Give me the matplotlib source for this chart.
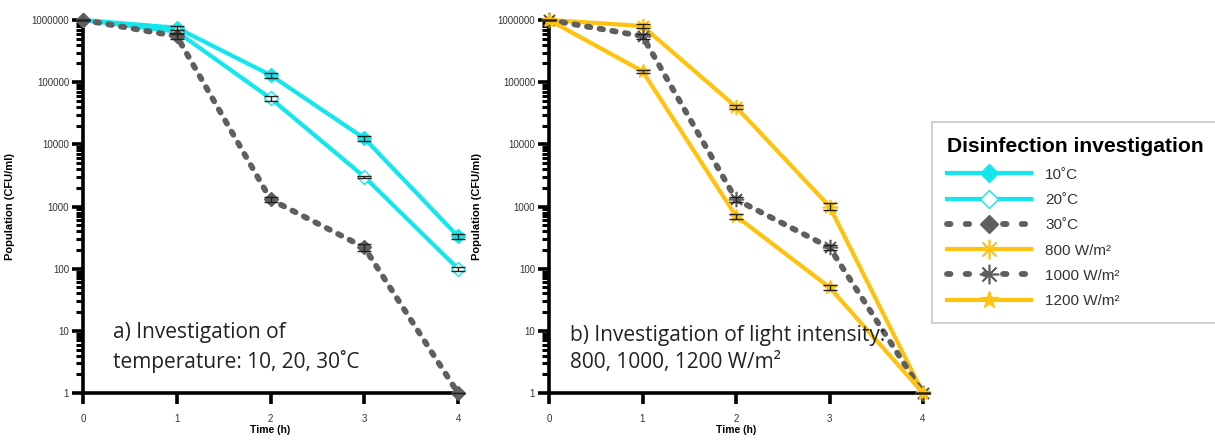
import matplotlib.pyplot as plt
import matplotlib.ticker as mticker
from matplotlib.lines import Line2D
import numpy as np

plt.rcParams["font.family"] = ["Liberation Sans", "DejaVu Sans"]

# --- data ---
time_h = [0, 1, 2, 3, 4]
y_ticks = [1, 10, 100, 1000, 10000, 100000, 1000000]

temp_10 = [1e6, 7.5e5, 1.3e5, 1.25e4, 330]
temp_10_err = [0, 6e4, 1.2e4, 1.2e3, 30]
temp_20 = [1e6, 6.5e5, 5.5e4, 3000, 100]
temp_20_err = [0, 5e4, 6e3, 150, 8]
temp_30 = [1e6, 5.5e5, 1300, 220, 1]
temp_30_err = [0, 6e4, 100, 25, 0]

light_800 = [1e6, 8e5, 4e4, 1000, 1]
light_800_err = [0, 7e4, 3e3, 120, 0]
light_1000 = [1e6, 5.5e5, 1300, 220, 1]
light_1000_err = [0, 5e4, 100, 20, 0]
light_1200 = [1e6, 1.5e5, 700, 50, 1]
light_1200_err = [0, 8e3, 60, 5, 0]

CYAN = "#14E6EE"
YELLOW = "#FFC20E"
GRAY = "#5F5F5F"
DOTTED = (0, (0.6, 1.6))

W, H = 1215, 440
fig = plt.figure(figsize=(W / 100, H / 100), dpi=100)


def px_axes(x0, y0, x1, y1):
    return fig.add_axes([x0 / W, 1 - y1 / H, (x1 - x0) / W, (y1 - y0) / H])


def style_axes(ax):
    ax.set_yscale("log")
    ax.set_xlim(0, 4)
    ax.set_ylim(1, 1e6)
    for s in ("top", "right"):
        ax.spines[s].set_visible(False)
    for s in ("left", "bottom"):
        ax.spines[s].set_linewidth(2.6)
    ax.set_xticks(time_h)
    ax.yaxis.set_major_locator(mticker.FixedLocator(y_ticks))
    minors = [m * d for d in y_ticks[:-1] for m in range(2, 10)]
    ax.yaxis.set_minor_locator(mticker.FixedLocator(minors))
    ax.set_yticklabels([str(v) for v in y_ticks])
    ax.yaxis.set_minor_formatter(mticker.NullFormatter())
    ax.tick_params(axis="y", which="major", length=8, width=2.6, labelsize=7, labelcolor="#333333", pad=2)
    ax.tick_params(axis="y", which="minor", length=5, width=2.2)
    ax.tick_params(axis="x", which="major", length=8, width=2.6, labelsize=7, labelcolor="#333333", pad=7)
    ax.set_xlabel("Time (h)", fontsize=7.5, fontweight="bold", labelpad=1)
    ax.set_ylabel("Population (CFU/ml)", fontsize=8, fontweight="bold")
    ax.yaxis.set_label_coords(-0.18, 0.5)


def series(ax, y, err, color, ls, marker, mfc, ms, mew=1.0):
    ax.plot(time_h, y, color=color, linestyle=ls, linewidth=3.0 if ls == "-" else 4.2,
            dash_capstyle="round", marker=marker, markersize=ms, markerfacecolor=mfc,
            markeredgecolor=color, markeredgewidth=mew, clip_on=False, zorder=3)
    ax.errorbar(time_h, y, yerr=err, fmt="none", ecolor="#222222", elinewidth=1.0,
                capsize=5, capthick=1.0, zorder=4, clip_on=False)


# --- a) temperature ---
ax1 = px_axes(83, 20, 458, 393)
style_axes(ax1)
series(ax1, temp_10, temp_10_err, CYAN, "-", "D", CYAN, 7)
series(ax1, temp_20, temp_20_err, CYAN, "-", "D", "white", 7)
series(ax1, temp_30, temp_30_err, GRAY, DOTTED, "D", GRAY, 7)
ax1.text(0.32, 2.1, "a) Investigation of\ntemperature: 10, 20, 30˚C", fontsize=15,
         family="Open Sans", color="#222222", va="bottom", linespacing=1.4)

# --- b) light intensity ---
ax2 = px_axes(549, 20, 923, 393)
style_axes(ax2)
series(ax2, light_800, light_800_err, YELLOW, "-", (8, 2, 0), YELLOW, 11, 1.2)
series(ax2, light_1000, light_1000_err, GRAY, DOTTED, (8, 2, 0), GRAY, 11, 1.2)
series(ax2, light_1200, light_1200_err, YELLOW, "-", "*", YELLOW, 10, 1.0)
ax2.text(0.22, 2.1, "b) Investigation of light intensity:\n800, 1000, 1200 W/m²", fontsize=15,
         family="Open Sans", color="#222222", va="bottom", linespacing=1.4)

# --- legend ---
handles = [
    Line2D([], [], color=CYAN, lw=3.0, marker="D", ms=9, mfc=CYAN, mec=CYAN),
    Line2D([], [], color=CYAN, lw=3.0, marker="D", ms=9, mfc="white", mec=CYAN),
    Line2D([], [], color=GRAY, lw=4.2, ls=(0, (0.6, 2.6)), dash_capstyle="round", marker="D", ms=9, mfc=GRAY, mec=GRAY),
    Line2D([], [], color=YELLOW, lw=3.0, marker=(8, 2, 0), ms=14, mec=YELLOW, mew=1.2),
    Line2D([], [], color=GRAY, lw=4.2, ls=(0, (0.6, 2.6)), dash_capstyle="round", marker=(8, 2, 0), ms=14, mec=GRAY, mew=1.2),
    Line2D([], [], color=YELLOW, lw=3.0, marker="*", ms=13, mfc=YELLOW, mec=YELLOW),
]
labels = ["10˚C", "20˚C", "30˚C", "800 W/m²", "1000 W/m²", "1200 W/m²"]
leg = fig.legend(handles, labels, loc="upper left", bbox_to_anchor=(932 / W, 1 - 122 / H),
                 title="Disinfection investigation", frameon=True, fancybox=False,
                 handlelength=5.5, fontsize=11, labelspacing=0.74, borderpad=1.0,
                 handletextpad=0.9, borderaxespad=0)
leg.get_title().set_fontsize(15.2)
leg.get_title().set_fontweight("bold")
leg._legend_box.align = "left"
leg.get_frame().set_edgecolor("#BBBBBB")
leg.get_frame().set_linewidth(1.2)
for t in leg.get_texts():
    t.set_color("#333333")

fig.savefig("out.png", dpi=100)
